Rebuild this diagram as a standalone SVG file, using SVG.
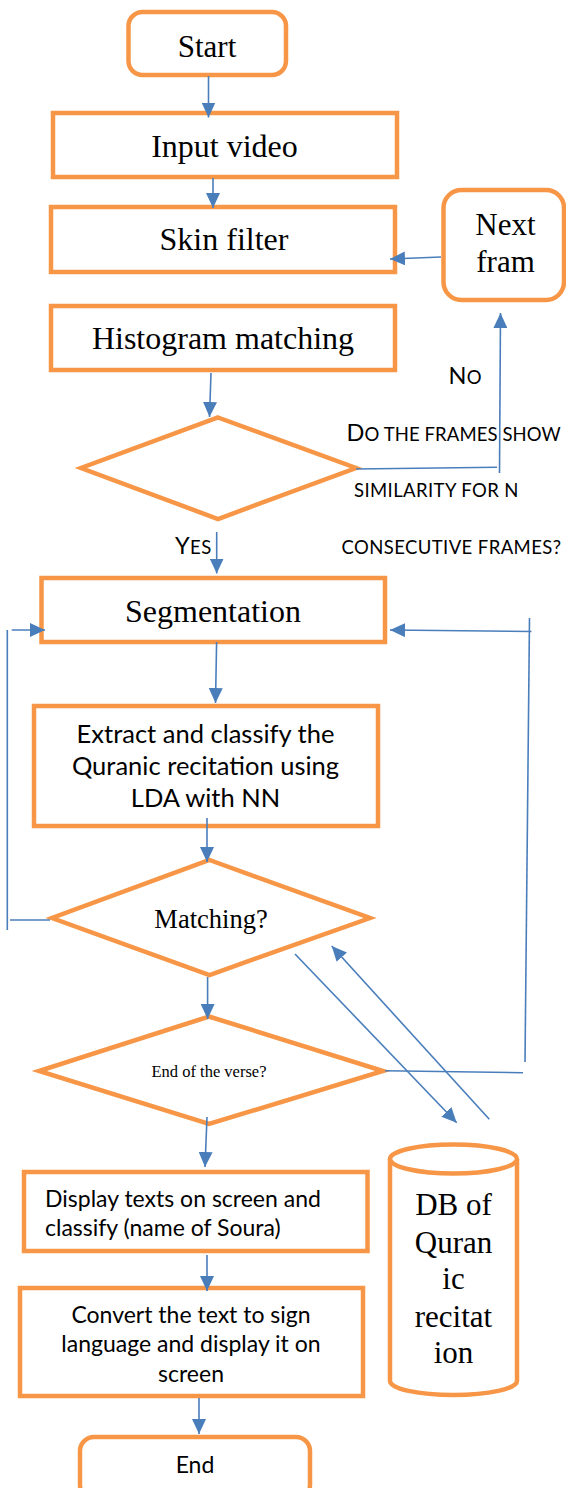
<svg xmlns="http://www.w3.org/2000/svg" width="566" height="1488" viewBox="0 0 566 1488">
  <style>
    .box { fill: #FFFFFF; stroke: #F79646; stroke-width: 4.5; }
    .line { fill: none; stroke: #4A7EBB; stroke-width: 1.6; }
    .arrow { fill: none; stroke: #4A7EBB; stroke-width: 1.6; marker-end: url(#head); }
    .serif { font-family: "Liberation Serif", "Times New Roman", serif; fill: #000000; }
    .sans { font-family: Lato, "Noto Sans", sans-serif; fill: #000000; }
    .t31 { font-size: 31px; }
    .t32 { font-size: 32px; }
    .body { font-size: 23px; }
    .body-lg { font-size: 25.5px; }
    .sc { font-size: 18.5px; letter-spacing: 0.4px; }
    .sc-tight { letter-spacing: 0.1px; }
    .cap { font-size: 23.5px; }
  </style>
  <defs>
    <marker id="head" viewBox="0 0 10 10" refX="10" refY="5" markerUnits="userSpaceOnUse" markerWidth="15" markerHeight="14" orient="auto" preserveAspectRatio="none">
      <path d="M0,0 L10,5 L0,10 z" fill="#4A7EBB"/>
    </marker>
  </defs>

  <rect width="566" height="1488" fill="#FFFFFF"/>

  <!-- terminal: start -->
  <g id="start">
    <rect class="box" x="128.5" y="12" width="157.5" height="63" rx="14"/>
    <text class="serif t31" x="207" y="57" text-anchor="middle">Start</text>
  </g>

  <g id="input-video">
    <rect class="box" x="53" y="113" width="344" height="64"/>
    <text class="serif t32" x="224.5" y="157" text-anchor="middle">Input video</text>
  </g>

  <g id="skin-filter">
    <rect class="box" x="51" y="207" width="344" height="65"/>
    <text class="serif t32" x="224" y="250" text-anchor="middle">Skin filter</text>
  </g>

  <g id="next-frame">
    <rect class="box" x="443.5" y="190" width="120.5" height="110" rx="18"/>
    <text class="serif t31" x="505.5" y="235" text-anchor="middle">Next</text>
    <text class="serif t31" x="505.5" y="271.5" text-anchor="middle">fram</text>
  </g>

  <g id="histogram-matching">
    <rect class="box" x="51" y="306" width="344" height="64"/>
    <text class="serif t32" x="223" y="349" text-anchor="middle">Histogram matching</text>
  </g>

  <!-- similarity decision; its question sits beside it -->
  <g id="similarity-check">
    <polygon class="box" points="218,417.5 356,468 218,519 81,468"/>
    <text class="sans sc sc-tight" x="346.5" y="440.5"><tspan class="cap">D</tspan>O THE FRAMES SHOW</text>
    <text class="sans sc" x="354" y="496.5">SIMILARITY FOR N</text>
    <text class="sans sc" x="341.5" y="553.5">CONSECUTIVE FRAMES?</text>
  </g>

  <g id="segmentation">
    <rect class="box" x="41.5" y="578" width="343.5" height="64"/>
    <text class="serif t32" x="213" y="621.5" text-anchor="middle">Segmentation</text>
  </g>

  <g id="extract-classify">
    <rect class="box" x="34" y="706" width="344" height="120"/>
    <text class="sans body-lg" x="205.5" y="743" text-anchor="middle">Extract and classify the</text>
    <text class="sans body-lg" x="205.5" y="775" text-anchor="middle">Quranic recitation using</text>
    <text class="sans body-lg" x="205.5" y="807" text-anchor="middle">LDA with NN</text>
  </g>

  <g id="matching">
    <polygon class="box" points="209.5,860 370,918 209.5,975 52,918"/>
    <text class="serif" font-size="26.5" x="211" y="928" text-anchor="middle">Matching?</text>
  </g>

  <g id="end-of-verse">
    <polygon class="box" points="209,1016.5 383,1071 209,1124 39,1071"/>
    <text class="serif" font-size="16.5" x="209" y="1076.5" text-anchor="middle">End of the verse?</text>
  </g>

  <g id="display-texts">
    <rect class="box" x="24" y="1172" width="343.5" height="79"/>
    <text class="sans body" x="45" y="1206.5">Display texts on screen and</text>
    <text class="sans body" x="45" y="1236">classify (name of Soura)</text>
  </g>

  <g id="sign-language">
    <rect class="box" x="20" y="1288" width="343" height="108"/>
    <text class="sans body" x="191" y="1323" text-anchor="middle">Convert the text to sign</text>
    <text class="sans body" x="191" y="1352" text-anchor="middle">language and display it on</text>
    <text class="sans body" x="191" y="1381.5" text-anchor="middle">screen</text>
  </g>

  <!-- terminal: end (runs off the lower edge) -->
  <g id="end">
    <rect class="box" x="80" y="1437" width="230" height="62" rx="14"/>
    <text class="sans body" x="195" y="1473" text-anchor="middle">End</text>
  </g>

  <!-- recitation database -->
  <g id="quran-db">
    <path class="box" d="M390,1159 A63.5,14.5 0 0 1 517,1159 L517,1381 A63.5,14 0 0 1 390,1381 Z"/>
    <path class="box" fill="none" d="M390,1159 A63.5,14.5 0 0 0 517,1159"/>
    <text class="serif t31" x="453.5" y="1215" text-anchor="middle">DB of</text>
    <text class="serif t31" x="453.5" y="1252.5" text-anchor="middle">Quran</text>
    <text class="serif t31" x="453.5" y="1289" text-anchor="middle">ic</text>
    <text class="serif t31" x="453.5" y="1326.5" text-anchor="middle">recitat</text>
    <text class="serif t31" x="453.5" y="1363" text-anchor="middle">ion</text>
  </g>

  <g id="connectors">
    <line class="arrow" x1="208.5" y1="76" x2="208.5" y2="117.5"/>
    <line class="arrow" x1="213" y1="178" x2="213" y2="208"/>
    <line class="arrow" x1="441" y1="257" x2="390" y2="259"/>
    <line class="arrow" x1="211" y1="373" x2="209.5" y2="417"/>
    <!-- "No" branch back to the next frame -->
    <line class="line" x1="356" y1="469" x2="497" y2="467.3"/>
    <line class="arrow" x1="499.5" y1="473" x2="500.5" y2="313"/>
    <text class="sans sc" x="448.5" y="384"><tspan class="cap">N</tspan>O</text>
    <!-- "Yes" branch -->
    <line class="arrow" x1="216.7" y1="532" x2="216.7" y2="573.5"/>
    <text class="sans sc" x="175" y="554"><tspan class="cap">Y</tspan>ES</text>
    <line class="arrow" x1="216.6" y1="642" x2="215.5" y2="703"/>
    <line class="arrow" x1="207" y1="818" x2="207" y2="862"/>
    <!-- loop from matching back to segmentation -->
    <line class="line" x1="7.3" y1="630" x2="7.3" y2="930"/>
    <line class="arrow" x1="11.7" y1="630" x2="45" y2="630"/>
    <line class="line" x1="10" y1="920" x2="50" y2="920"/>
    <line class="arrow" x1="207.6" y1="977" x2="207.6" y2="1019"/>
    <!-- database lookups -->
    <line class="arrow" x1="295" y1="954" x2="456.7" y2="1122.7"/>
    <line class="arrow" x1="489.3" y1="1119.3" x2="331.7" y2="946"/>
    <!-- loop from end of verse back to segmentation -->
    <line class="line" x1="385" y1="1070.7" x2="523" y2="1072.7"/>
    <line class="line" x1="529.5" y1="618" x2="525" y2="1062"/>
    <line class="arrow" x1="531.5" y1="631.5" x2="390" y2="630"/>
    <line class="arrow" x1="207" y1="1117" x2="205" y2="1167"/>
    <line class="arrow" x1="207" y1="1255" x2="207" y2="1291"/>
    <line class="arrow" x1="199" y1="1398" x2="199" y2="1434"/>
  </g>
</svg>
